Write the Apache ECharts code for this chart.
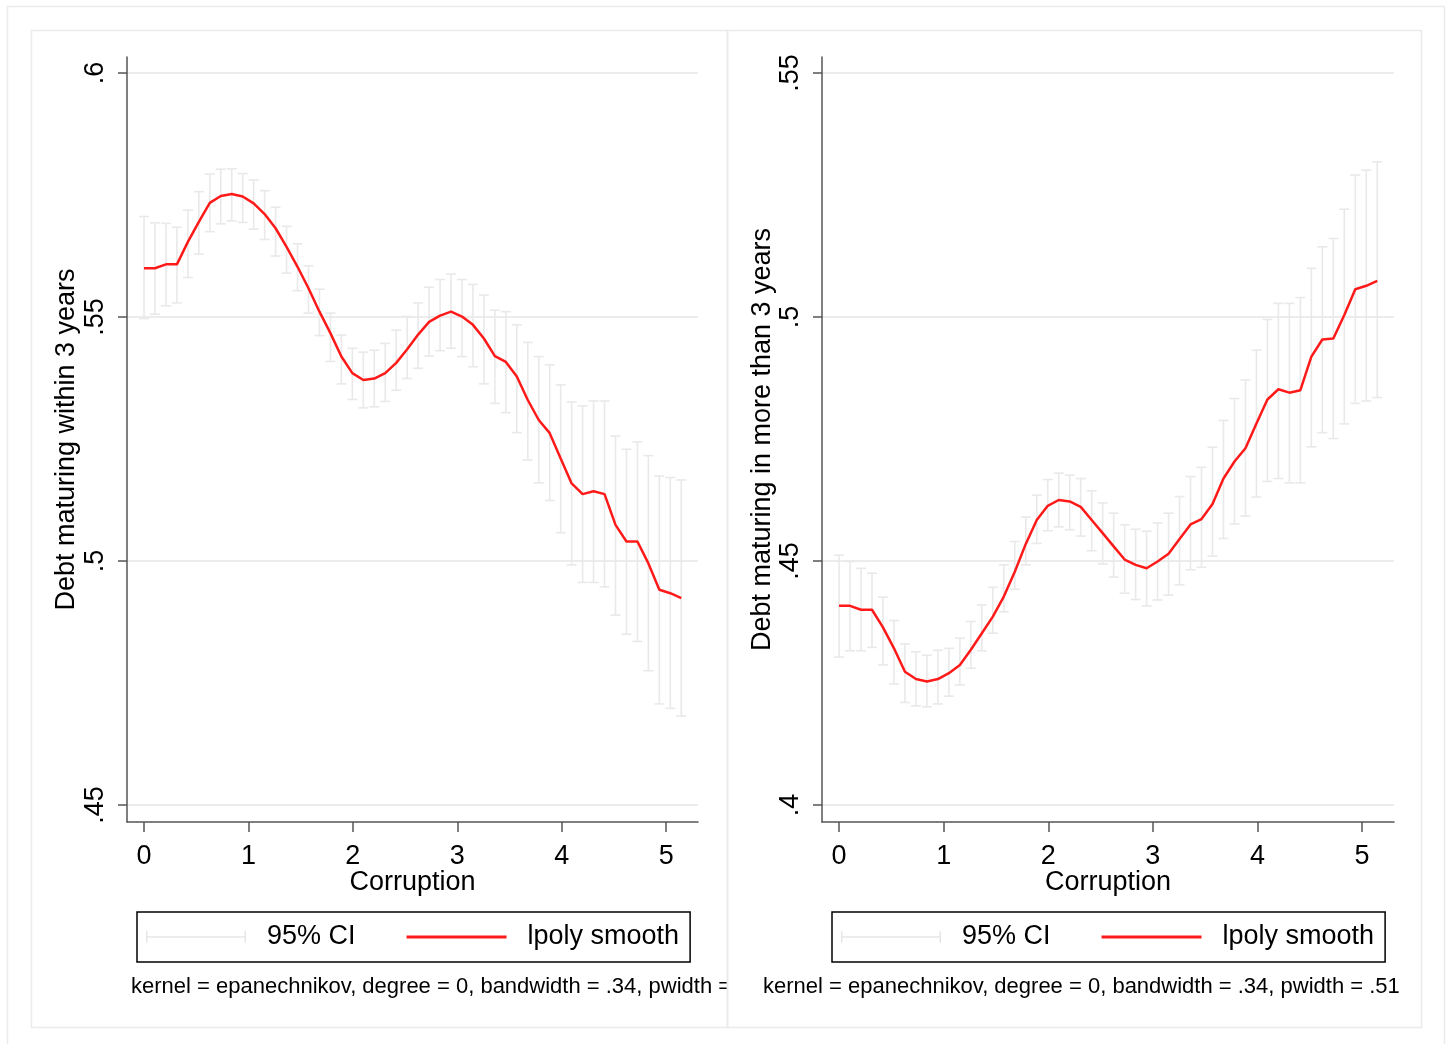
<!DOCTYPE html>
<html><head><meta charset="utf-8">
<script src="https://cdn.jsdelivr.net/npm/echarts@6/dist/echarts.min.js"></script>
<style>html,body{margin:0;padding:0;background:#fff}#c{width:1448px;height:1044px}</style>
</head><body><div id="c"></div>
<script>
// ---- data ----
const corruption = [0,0.105,0.21,0.315,0.42,0.525,0.63,0.735,0.84,0.945,1.05,1.155,1.26,1.365,1.47,1.575,1.68,1.785,1.89,1.995,2.1,2.205,2.31,2.415,2.52,2.625,2.73,2.835,2.94,3.045,3.15,3.255,3.36,3.465,3.57,3.675,3.78,3.885,3.99,4.095,4.2,4.305,4.41,4.515,4.62,4.725,4.83,4.935,5.04,5.145];
const fitShort = [0.5600,0.5600,0.5608,0.5608,0.5654,0.5695,0.5734,0.5748,0.5752,0.5747,0.5733,0.5711,0.5682,0.5644,0.5603,0.5559,0.5511,0.5467,0.5419,0.5385,0.5371,0.5374,0.5385,0.5406,0.5434,0.5464,0.5490,0.5503,0.5511,0.5501,0.5484,0.5456,0.5420,0.5408,0.5378,0.5330,0.5289,0.5262,0.5210,0.5159,0.5137,0.5143,0.5137,0.5074,0.5040,0.5040,0.4995,0.4941,0.4934,0.4924];
const ciLowShort = [0.5497,0.5506,0.5523,0.5529,0.5581,0.5629,0.5675,0.5691,0.5697,0.5694,0.5680,0.5659,0.5625,0.5590,0.5554,0.5508,0.5462,0.5409,0.5363,0.5331,0.5314,0.5316,0.5327,0.5350,0.5374,0.5395,0.5420,0.5431,0.5436,0.5419,0.5398,0.5363,0.5323,0.5304,0.5263,0.5207,0.5160,0.5124,0.5058,0.4992,0.4956,0.4956,0.4947,0.4889,0.4850,0.4835,0.4775,0.4707,0.4698,0.4682];
const ciHighShort = [0.5706,0.5693,0.5692,0.5684,0.5719,0.5757,0.5793,0.5803,0.5804,0.5794,0.5781,0.5759,0.5725,0.5686,0.5650,0.5605,0.5557,0.5508,0.5463,0.5436,0.5428,0.5432,0.5446,0.5473,0.5501,0.5529,0.5561,0.5577,0.5588,0.5577,0.5567,0.5545,0.5514,0.5511,0.5484,0.5448,0.5419,0.5402,0.5361,0.5326,0.5318,0.5328,0.5328,0.5256,0.5229,0.5244,0.5216,0.5174,0.5171,0.5166];
const fitLong = [0.4408,0.4408,0.4400,0.4400,0.4364,0.4321,0.4273,0.4258,0.4253,0.4258,0.4270,0.4287,0.4318,0.4352,0.4386,0.4427,0.4478,0.4535,0.4584,0.4613,0.4625,0.4622,0.4611,0.4584,0.4557,0.4530,0.4503,0.4492,0.4485,0.4499,0.4515,0.4545,0.4575,0.4586,0.4617,0.4669,0.4704,0.4731,0.4782,0.4831,0.4852,0.4845,0.4850,0.4919,0.4954,0.4956,0.5004,0.5057,0.5064,0.5074];
const ciLowLong = [0.4303,0.4316,0.4316,0.4323,0.4287,0.4248,0.4210,0.4203,0.4201,0.4207,0.4223,0.4246,0.4280,0.4316,0.4352,0.4396,0.4442,0.4492,0.4536,0.4562,0.4570,0.4564,0.4551,0.4521,0.4494,0.4467,0.4434,0.4421,0.4408,0.4420,0.4430,0.4451,0.4482,0.4487,0.4510,0.4546,0.4576,0.4592,0.4631,0.4663,0.4669,0.4660,0.4660,0.4734,0.4763,0.4751,0.4781,0.4823,0.4828,0.4835];
const ciHighLong = [0.4512,0.4499,0.4485,0.4475,0.4426,0.4378,0.4330,0.4314,0.4307,0.4317,0.4321,0.4342,0.4376,0.4410,0.4446,0.4492,0.4540,0.4590,0.4635,0.4667,0.4680,0.4676,0.4669,0.4644,0.4619,0.4598,0.4574,0.4565,0.4561,0.4578,0.4598,0.4632,0.4673,0.4692,0.4733,0.4788,0.4833,0.4871,0.4932,0.4995,0.5028,0.5028,0.5040,0.5100,0.5144,0.5161,0.5221,0.5291,0.5301,0.5318];
const xTicks = [0,1,2,3,4,5];
const xTickLabels = ['0','1','2','3','4','5'];
const yTicksShort = [0.45,0.5,0.55,0.6];
const yTickLabelsShort = ['.45','.5','.55','.6'];
const yTicksLong = [0.4,0.45,0.5,0.55];
const yTickLabelsLong = ['.4','.45','.5','.55'];
const xTitle = 'Corruption';
const yTitleShort = 'Debt maturing within 3 years';
const yTitleLong = 'Debt maturing in more than 3 years';
const ciName = '95% CI';
const fitName = 'lpoly smooth';
const noteText = 'kernel = epanechnikov, degree = 0, bandwidth = .34, pwidth = .51';

// ---- styling ----
const FONT = '"Liberation Sans", Arial, sans-serif';
const AXIS_COLOR = '#555555';
const GRID_COLOR = '#e6e6e6';
const CI_COLOR = '#e9e9e9';
const FIT_COLOR = '#ff1a1a';
const BORDER_COLOR = '#ebebeb';

function labelFor(ticks, labels) {
  return function (v) {
    for (let i = 0; i < ticks.length; i++) if (Math.abs(ticks[i] - v) < 1e-9) return labels[i];
    return '';
  };
}
function xAxisCfg(gi) {
  return {
    gridIndex: gi, type: 'value', min: -0.163, max: 5.305,
    name: xTitle, nameLocation: 'middle', nameGap: 47, nameMoveOverlap: false,
    nameTextStyle: { fontSize: 27, color: '#000', fontFamily: FONT },
    axisLine: { show: true, onZero: false, lineStyle: { color: AXIS_COLOR, width: 1.5 } },
    axisTick: { show: true, length: 10, customValues: xTicks, lineStyle: { color: AXIS_COLOR, width: 1.5 } },
    axisLabel: { customValues: xTicks, formatter: labelFor(xTicks, xTickLabels), fontSize: 27, color: '#000', margin: 21, fontFamily: FONT },
    splitLine: { show: false }
  };
}
function yAxisCfg(gi, min, max, ticks, labels, title, gap) {
  return {
    gridIndex: gi, type: 'value', min: min, max: max,
    name: title, nameLocation: 'middle', nameGap: gap, nameRotate: 90,
    nameTextStyle: { fontSize: 27, color: '#000', fontFamily: FONT },
    axisLine: { show: true, onZero: false, lineStyle: { color: AXIS_COLOR, width: 1.5 } },
    axisTick: { show: true, length: 9, customValues: ticks, lineStyle: { color: AXIS_COLOR, width: 1.5 } },
    axisLabel: { customValues: ticks, formatter: labelFor(ticks, labels), rotate: 90, fontSize: 27, color: '#000', margin: 18, fontFamily: FONT },
    splitLine: { show: true, lineStyle: { color: GRID_COLOR, width: 1.5 } }
  };
}
function ciRender(params, api) {
  const x = api.value(0), lo = api.value(1), hi = api.value(2);
  const p1 = api.coord([x, hi]), p2 = api.coord([x, lo]);
  const cap = 5;
  const st = { stroke: CI_COLOR, lineWidth: 1.6, fill: null };
  return {
    type: 'group', children: [
      { type: 'line', shape: { x1: p1[0], y1: p1[1], x2: p2[0], y2: p2[1] }, style: st },
      { type: 'line', shape: { x1: p1[0] - cap, y1: p1[1], x2: p1[0] + cap, y2: p1[1] }, style: st },
      { type: 'line', shape: { x1: p2[0] - cap, y1: p2[1], x2: p2[0] + cap, y2: p2[1] }, style: st }
    ]
  };
}
function ciSeries(gi, lo, hi) {
  return {
    type: 'custom', name: ciName, xAxisIndex: gi, yAxisIndex: gi,
    renderItem: ciRender, encode: { x: 0, y: [1, 2] },
    itemStyle: { color: CI_COLOR },
    data: corruption.map((x, i) => [x, lo[i], hi[i]]), z: 2
  };
}
function fitSeries(gi, fit) {
  return {
    type: 'line', name: fitName, xAxisIndex: gi, yAxisIndex: gi,
    symbol: 'none', smooth: false,
    lineStyle: { color: FIT_COLOR, width: 2.5 }, itemStyle: { color: FIT_COLOR },
    data: corruption.map((x, i) => [x, fit[i]]), z: 3
  };
}
function legendCfg(left) {
  return {
    left: left, top: 912, orient: 'horizontal',
    itemWidth: 100, itemHeight: 12, itemGap: 51,
    padding: [10, 11, 10, 9],
    borderColor: '#000', borderWidth: 1.5, borderRadius: 0,
    selectedMode: false,
    textStyle: { fontSize: 27, color: '#000', fontFamily: FONT, lineHeight: 30, padding: [0, 0, 0, 16] },
    data: [
      { name: ciName, icon: 'path://M0,5 H100 V6.5 H0 Z M0,0 H1.5 V11.5 H0 Z M98.5,0 H100 V11.5 H98.5 Z', itemStyle: { color: '#e6e6e6' } },
      { name: fitName, icon: 'path://M0,0 H100 V2.8 H0 Z', itemStyle: { color: FIT_COLOR } }
    ]
  };
}

const chart = echarts.init(document.getElementById('c'), null, { renderer: 'canvas', width: 1448, height: 1044 });
chart.setOption({
  animation: false,
  backgroundColor: '#fff',
  grid: [
    { left: 127, top: 57, width: 571, height: 765 },
    { left: 822, top: 57, width: 572, height: 765 }
  ],
  xAxis: [xAxisCfg(0), xAxisCfg(1)],
  yAxis: [
    yAxisCfg(0, 0.4465, 0.6033, yTicksShort, yTickLabelsShort, yTitleShort, 47),
    yAxisCfg(1, 0.3965, 0.5533, yTicksLong, yTickLabelsLong, yTitleLong, 44)
  ],
  legend: [legendCfg(137), legendCfg(832)],
  series: [
    ciSeries(0, ciLowShort, ciHighShort), fitSeries(0, fitShort),
    ciSeries(1, ciLowLong, ciHighLong), fitSeries(1, fitLong)
  ],
  graphic: [
    { type: 'rect', z: 20, shape: { x: 7.5, y: 6.5, width: 1437, height: 1060 }, style: { fill: null, stroke: BORDER_COLOR, lineWidth: 1.5 } },
    { type: 'text', z: 5, x: 131, y: 987, style: { text: noteText, font: '22px ' + FONT, fill: '#000', verticalAlign: 'middle', width: 622, overflow: 'truncate', ellipsis: '' } },
    { type: 'text', z: 5, x: 763, y: 987, style: { text: noteText, font: '22px ' + FONT, fill: '#000', verticalAlign: 'middle' } },
    { type: 'rect', z: 10, shape: { x: 728, y: 968, width: 33, height: 40 }, style: { fill: '#fff' } },
    { type: 'rect', z: 20, shape: { x: 31.5, y: 30.5, width: 696, height: 997 }, style: { fill: null, stroke: BORDER_COLOR, lineWidth: 1.5 } },
    { type: 'rect', z: 20, shape: { x: 727.5, y: 30.5, width: 694, height: 997 }, style: { fill: null, stroke: BORDER_COLOR, lineWidth: 1.5 } }
  ]
});
</script></body></html>
